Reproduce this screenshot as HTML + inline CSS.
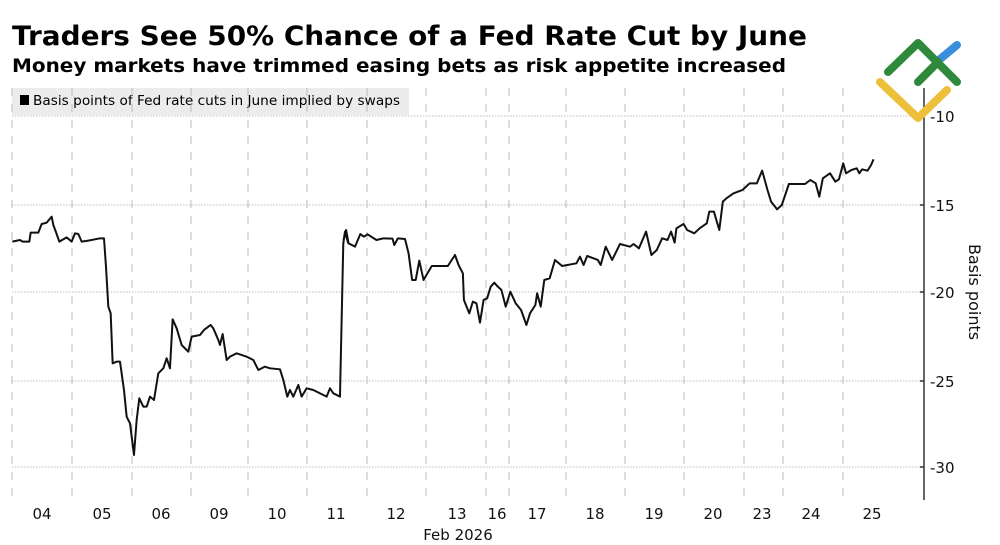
<!DOCTYPE html>
<html><head><meta charset="utf-8"><style>
html,body{margin:0;padding:0;background:#fff}
svg{display:block}
text{font-family:"DejaVu Sans","Liberation Sans",sans-serif}
</style></head><body>
<svg width="1000" height="545" viewBox="0 0 1000 545" xmlns="http://www.w3.org/2000/svg">
<text x="12" y="45" font-size="27" font-weight="bold" textLength="795" lengthAdjust="spacingAndGlyphs">Traders See 50% Chance of a Fed Rate Cut by June</text>
<text x="12" y="72" font-size="19" font-weight="bold" textLength="774" lengthAdjust="spacingAndGlyphs">Money markets have trimmed easing bets as risk appetite increased</text>
<rect x="12" y="88" width="397" height="27" fill="#ececec"/>
<rect x="20" y="95" width="9" height="10" fill="#000"/>
<text x="33" y="105" font-size="13" textLength="367" lengthAdjust="spacingAndGlyphs">Basis points of Fed rate cuts in June implied by swaps</text>
<g stroke="#bbb" stroke-width="1" stroke-dasharray="1.5,1.5">
<line x1="12" y1="116" x2="924" y2="116"/><line x1="12" y1="205" x2="924" y2="205"/><line x1="12" y1="292" x2="924" y2="292"/><line x1="12" y1="381" x2="924" y2="381"/><line x1="12" y1="467" x2="924" y2="467"/>
</g>
<g stroke="#bbb" stroke-width="1" stroke-dasharray="8,8">
<line x1="12" y1="88" x2="12" y2="500"/><line x1="72" y1="88" x2="72" y2="500"/><line x1="132" y1="88" x2="132" y2="500"/><line x1="191" y1="88" x2="191" y2="500"/><line x1="248" y1="88" x2="248" y2="500"/><line x1="307" y1="88" x2="307" y2="500"/><line x1="367" y1="88" x2="367" y2="500"/><line x1="426" y1="88" x2="426" y2="500"/><line x1="486" y1="88" x2="486" y2="500"/><line x1="509" y1="88" x2="509" y2="500"/><line x1="566" y1="88" x2="566" y2="500"/><line x1="625" y1="88" x2="625" y2="500"/><line x1="684" y1="88" x2="684" y2="500"/><line x1="744" y1="88" x2="744" y2="500"/><line x1="783" y1="88" x2="783" y2="500"/><line x1="843" y1="88" x2="843" y2="500"/>
</g>
<line x1="924" y1="88" x2="924" y2="500" stroke="#333" stroke-width="1.5"/>
<g stroke="#333" stroke-width="1.5"><line x1="920" y1="116" x2="924" y2="116"/><line x1="920" y1="205" x2="924" y2="205"/><line x1="920" y1="292" x2="924" y2="292"/><line x1="920" y1="381" x2="924" y2="381"/><line x1="920" y1="467" x2="924" y2="467"/></g>
<g font-size="15" fill="#111">
<text x="930" y="122">-10</text><text x="930" y="211">-15</text><text x="930" y="298">-20</text><text x="930" y="387">-25</text><text x="930" y="473">-30</text>
</g>
<text transform="translate(969,292) rotate(90)" font-size="16" text-anchor="middle" fill="#111">Basis points</text>
<g font-size="15" fill="#111" text-anchor="middle">
<text x="42" y="519">04</text><text x="102" y="519">05</text><text x="161" y="519">06</text><text x="219" y="519">09</text><text x="277" y="519">10</text><text x="336" y="519">11</text><text x="396" y="519">12</text><text x="457" y="519">13</text><text x="497" y="519">16</text><text x="537" y="519">17</text><text x="595" y="519">18</text><text x="654" y="519">19</text><text x="713" y="519">20</text><text x="762" y="519">23</text><text x="811" y="519">24</text><text x="872" y="519">25</text>
<text x="458" y="540">Feb 2026</text>
</g>
<g fill="none" stroke="#111" stroke-width="2" stroke-linejoin="round">
<polyline transform="translate(0,200) scale(0.3333,0.3333)" vector-effect="non-scaling-stroke" points="37,125 60,120 68,125 88,125 92,98 115,98 125,72 140,68 155,50 160,75 170,102 178,125 200,112 215,125 225,100 235,102 245,125 265,122 300,115 312,115 318,200 325,320 332,340 338,490 350,485 360,485 372,570 380,650 390,670 402,765 410,660 418,595 430,620 440,620 450,590 462,600 475,520 490,505 500,475 510,505 518,358 530,385 545,435 565,455 575,410 600,405 612,390 632,375 640,385 655,420 660,435 668,402 680,480 690,470 710,460 740,470 760,480 775,510 795,500 810,505 840,508 850,540 862,590 870,570 880,590 895,555 905,590 920,565 940,570 980,590 990,565 1000,580 1020,590 1030,130 1035,95 1045,130"/>
<polyline transform="translate(330,140) scale(0.35714,0.3333)" vector-effect="non-scaling-stroke" points="38,300 45,270 52,310 70,320 85,282 95,290 105,283 130,300 150,295 175,296 180,315 190,295 210,297 220,340 230,420 240,420 250,362 262,420 270,405 285,378 330,378 350,345 360,375 372,400 375,480 390,520 400,485 410,490 420,548 430,480 440,475 450,440 460,428 470,440 480,450 492,500 505,455 520,490 535,510 550,555 560,520 575,495 580,460 590,500 600,420 615,415 630,360 650,378 690,370 700,350 710,375 720,348 750,360 758,375 772,320 790,360 812,312 840,320 850,312 865,325 885,275 900,345 915,330 930,295 945,300 955,275 965,308 970,265 990,252 1000,270 1020,280 1035,265 1055,250 1062,215 1075,215 1090,270 1100,185 1110,175 1130,160 1155,150 1175,130 1195,130 1210,92 1225,150 1235,185 1252,208 1265,195 1285,132 1330,132 1345,120 1360,130 1370,170 1380,115 1400,100 1415,125 1425,118 1437,70 1445,100 1460,90 1475,85 1482,100 1490,88 1505,92 1515,75 1522,58"/>
</g>
<g fill="none" stroke-width="8" stroke-linecap="round" stroke-linejoin="round">
<polyline points="880,82 918,118 947,90" stroke="#ecc03a"/>
<line x1="939" y1="60" x2="957" y2="45" stroke="#3a8fdc"/>
<polyline points="888,72 918,43 957,82" stroke="#2e8a3a"/>
<line x1="918" y1="82" x2="938" y2="62" stroke="#2e8a3a"/>
</g>
</svg>
</body></html>
